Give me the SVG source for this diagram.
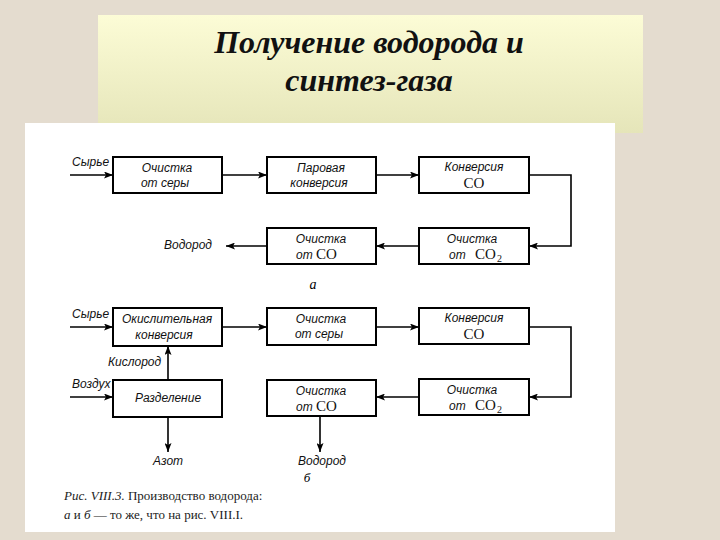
<svg xmlns="http://www.w3.org/2000/svg" width="720" height="540" viewBox="0 0 720 540">
<defs>
<linearGradient id="tg" x1="0" y1="0" x2="0" y2="1">
<stop offset="0" stop-color="#fcfcd6"/>
<stop offset="1" stop-color="#e5e5b9"/>
</linearGradient>
<marker id="ah" markerUnits="userSpaceOnUse" markerWidth="9" markerHeight="7" refX="9" refY="3.5" orient="auto">
<path d="M0,0 L9,3.5 L0,7 L2,3.5 z" fill="#000"/>
</marker>
<style>
.box{fill:#fff;stroke:#000;stroke-width:2}
.lbl{font-family:"Liberation Sans Narrow","Liberation Sans",sans-serif;font-style:italic;font-size:12px;fill:#111}
.co{font-family:"Liberation Serif",serif;font-size:15px;fill:#111}
.sub{font-family:"Liberation Serif",serif;font-size:10px;fill:#111}
.con{fill:none;stroke:#000;stroke-width:1.6;marker-end:url(#ah)}
.title{font-family:"Liberation Serif","DejaVu Serif",serif;font-weight:bold;font-style:italic;font-size:32px;fill:#111}
.cap{font-family:"Liberation Serif",serif;font-size:13px;fill:#222}
</style>
</defs>
<rect x="0" y="0" width="720" height="540" fill="#e4dccf"/>
<rect x="98" y="15" width="545" height="118" fill="url(#tg)"/>
<text class="title" x="369" y="53" text-anchor="middle">Получение водорода и</text>
<text class="title" x="369" y="91" text-anchor="middle">синтез-газа</text>
<rect x="25" y="123" width="590" height="409" fill="#fff"/>

<g id="a1"><rect class="box" x="113" y="157" width="109" height="36"/><text class="lbl" x="167" y="172" text-anchor="middle">Очистка</text><text class="lbl" x="165" y="187" text-anchor="middle">от  серы</text></g>
<g id="a2"><rect class="box" x="267" y="157" width="109" height="36"/><text class="lbl" x="321" y="172" text-anchor="middle">Паровая</text><text class="lbl" x="319" y="187" text-anchor="middle">конверсия</text></g>
<g id="a3"><rect class="box" x="419" y="157" width="110" height="36"/><text class="lbl" x="474" y="171" text-anchor="middle">Конверсия</text><text class="co" x="474" y="188" text-anchor="middle">CO</text></g>
<g id="a4"><rect class="box" x="267" y="228" width="109" height="36"/><text class="lbl" x="321" y="243" text-anchor="middle">Очистка</text><text class="lbl" x="296" y="259">от</text><text class="co" x="316" y="259">CO</text></g>
<g id="a5"><rect class="box" x="419" y="228" width="110" height="36"/><text class="lbl" x="472" y="243" text-anchor="middle">Очистка</text><text class="lbl" x="449" y="259">от</text><text class="co" x="475" y="259">CO</text><text class="sub" x="497" y="262">2</text></g>

<g id="b1"><rect class="box" x="113" y="308" width="109" height="38"/><text class="lbl" x="167" y="323" text-anchor="middle">Окислительная</text><text class="lbl" x="164" y="339" text-anchor="middle">конверсия</text></g>
<g id="b2"><rect class="box" x="267" y="308" width="109" height="37"/><text class="lbl" x="321" y="323" text-anchor="middle">Очистка</text><text class="lbl" x="319" y="338" text-anchor="middle">от  серы</text></g>
<g id="b3"><rect class="box" x="419" y="308" width="110" height="36"/><text class="lbl" x="474" y="322" text-anchor="middle">Конверсия</text><text class="co" x="474" y="339" text-anchor="middle">CO</text></g>
<g id="b4"><rect class="box" x="113" y="380" width="109" height="37"/><text class="lbl" x="168" y="402" text-anchor="middle">Разделение</text></g>
<g id="b5"><rect class="box" x="267" y="380" width="109" height="36"/><text class="lbl" x="321" y="395" text-anchor="middle">Очистка</text><text class="lbl" x="296" y="411">от</text><text class="co" x="316" y="411">CO</text></g>
<g id="b6"><rect class="box" x="419" y="379" width="110" height="36"/><text class="lbl" x="472" y="394" text-anchor="middle">Очистка</text><text class="lbl" x="449" y="410">от</text><text class="co" x="475" y="410">CO</text><text class="sub" x="497" y="413">2</text></g>

<g id="connectors">
<path class="con" d="M70,175 H113"/>
<path class="con" d="M222,175 H267"/>
<path class="con" d="M376,175 H419"/>
<path class="con" d="M529,175 H571 V246 H529"/>
<path class="con" d="M419,246 H376"/>
<path class="con" d="M267,246 H226"/>
<path class="con" d="M70,327 H113"/>
<path class="con" d="M70,397 H113"/>
<path class="con" d="M168,380 V346"/>
<path class="con" d="M222,327 H267"/>
<path class="con" d="M376,327 H419"/>
<path class="con" d="M529,327 H571 V397 H529"/>
<path class="con" d="M419,397 H376"/>
<path class="con" d="M168,417 V452"/>
<path class="con" d="M320,416 V452"/>
</g>

<g id="labels">
<text class="lbl" x="72" y="166">Сырье</text>
<text class="lbl" x="212" y="249" text-anchor="end">Водород</text>
<text x="313" y="289" text-anchor="middle" style="font-family:'Liberation Serif',serif;font-style:italic;font-size:14px">а</text>
<text class="lbl" x="72" y="318">Сырье</text>
<text class="lbl" x="108" y="366">Кислород</text>
<text class="lbl" x="72" y="388">Воздух</text>
<text class="lbl" x="168" y="465" text-anchor="middle">Азот</text>
<text class="lbl" x="322" y="465" text-anchor="middle">Водород</text>
<text x="307" y="482" text-anchor="middle" style="font-family:'Liberation Serif',serif;font-style:italic;font-size:13px">б</text>
</g>

<g id="caption">
<text class="cap" x="64" y="500"><tspan font-style="italic">Рис. VIII.3.</tspan> Производство водорода:</text>
<text class="cap" x="64" y="519" font-size="11"><tspan font-style="italic">а</tspan> и <tspan font-style="italic">б</tspan> — то же, что на рис. VIII.I.</text>
</g>
</svg>
